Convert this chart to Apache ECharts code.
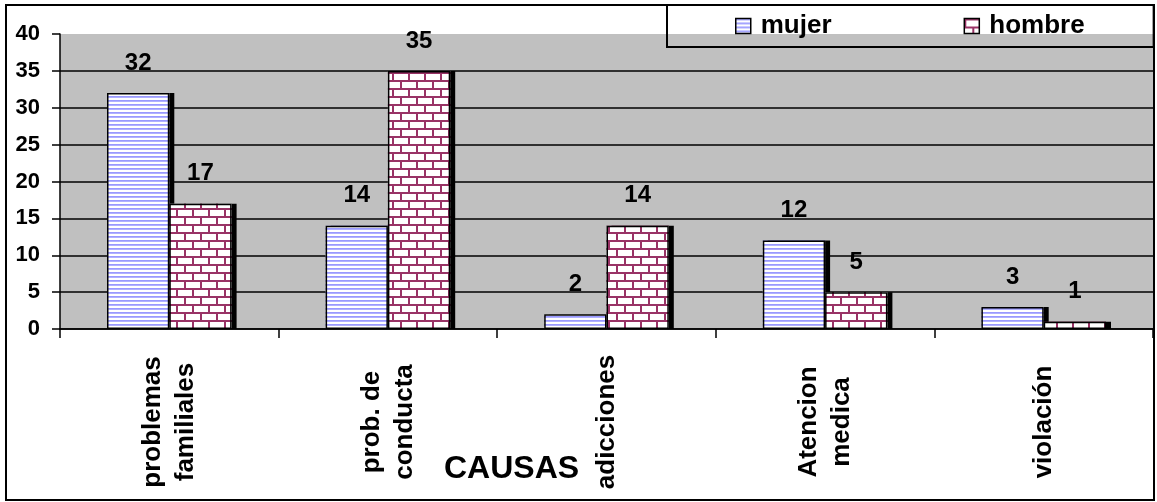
<!DOCTYPE html>
<html>
<head>
<meta charset="utf-8">
<script src="https://cdn.jsdelivr.net/npm/echarts@6/dist/echarts.min.js"></script>
<style>
  html, body { margin: 0; padding: 0; background: #fff; }
  #chart { width: 1157px; height: 502px; }
</style>
</head>
<body>
<div id="chart"></div>
<script>
// ── Data ──────────────────────────────────────────────────────────────────────
const causas = ['problemas\nfamiliales', 'prob. de\nconducta', 'adicciones', 'Atencion\nmedica', 'violación'];
const mujer  = [32, 14, 2, 12, 3];
const hombre = [17, 35, 14, 5, 1];
const seriesNames = ['mujer', 'hombre'];

// ── Fill patterns (Excel-style) ───────────────────────────────────────────────
function stripePattern() {
  const c = document.createElement('canvas');
  c.width = 4; c.height = 4;
  const ctx = c.getContext('2d');
  ctx.fillStyle = '#fff';
  ctx.fillRect(0, 0, 4, 4);
  ctx.fillStyle = '#9999ff';
  ctx.fillRect(0, 0, 4, 1);
  ctx.fillStyle = '#b0b0ff';
  ctx.fillRect(0, 1, 4, 1);
  return c;
}

function brickPattern() {
  const c = document.createElement('canvas');
  c.width = 16; c.height = 16;
  const ctx = c.getContext('2d');
  ctx.fillStyle = '#fff';
  ctx.fillRect(0, 0, 16, 16);
  ctx.fillStyle = '#993366';
  ctx.fillRect(0, 0, 16, 2);
  ctx.fillRect(0, 8, 16, 2);
  ctx.fillRect(0, 0, 2, 8);
  ctx.fillRect(8, 8, 2, 8);
  return c;
}

const FONT = "'Liberation Sans', Arial, sans-serif";
const PATTERNS = { mujer: stripePattern(), hombre: brickPattern() };

const chart = echarts.init(document.getElementById('chart'), null, { renderer: 'canvas' });

// filled bars with the black drop shadow (axis 0)
function fillSeries(name, values) {
  return {
    name,
    type: 'bar',
    xAxisIndex: 0,
    data: values,
    barGap: '0%',
    barCategoryGap: '43%',
    z: 2,
    itemStyle: {
      color: { image: PATTERNS[name], repeat: 'repeat' },
      borderWidth: 0,
      shadowColor: '#000',
      shadowOffsetX: 5,
      shadowOffsetY: 0,
      shadowBlur: 0,
    },
  };
}

// outlines + value labels drawn on an overlapping hidden axis
function outlineSeries(name, values) {
  return {
    name: name + ' ',
    type: 'bar',
    xAxisIndex: 1,
    data: values,
    barGap: '0%',
    barCategoryGap: '43%',
    z: 3,
    silent: true,
    itemStyle: { color: 'transparent', borderColor: '#000', borderWidth: 1.5 },
    label: {
      show: true,
      position: 'top',
      distance: 18,
      color: '#000',
      fontFamily: FONT,
      fontWeight: 'bold',
      fontSize: 24,
    },
  };
}

chart.setOption({
  backgroundColor: '#fff',
  animation: false,
  title: {
    text: 'CAUSAS',
    left: 444,
    top: 453,
    padding: 0,
    textStyle: { fontFamily: FONT, fontWeight: 'bold', fontSize: 32, color: '#000' },
  },
  legend: {
    data: seriesNames.map(n => ({
      name: n,
      itemStyle: { borderColor: '#000', borderWidth: 1.5 },
    })),
    icon: 'rect',
    left: 667,
    top: 5,
    padding: [8, 69, 8, 68],
    itemGap: 132,
    itemWidth: 15,
    itemHeight: 15,
    borderColor: '#000',
    borderWidth: 2,
    textStyle: {
      fontFamily: FONT, fontWeight: 'bold', fontSize: 26, color: '#000',
      padding: [0, 0, 0, 5],
    },
  },
  graphic: [{
    type: 'rect',
    shape: { x: 6, y: 5, width: 1148, height: 495 },
    style: { fill: 'none', stroke: '#000', lineWidth: 2 },
    z: 100,
    silent: true,
  }],
  grid: {
    left: 60, right: 4, top: 34, bottom: 173,
    show: true,
    backgroundColor: '#c0c0c0',
    borderWidth: 0,
  },
  xAxis: [{
    type: 'category',
    data: causas,
    axisLine: { lineStyle: { color: '#000', width: 1.5 } },
    axisTick: { show: true, length: 9, lineStyle: { color: '#000', width: 1.5 } },
    axisLabel: {
      rotate: 90,
      align: 'center',
      verticalAlign: 'middle',
      margin: 93,
      lineHeight: 33,
      color: '#000',
      fontFamily: FONT,
      fontWeight: 'bold',
      fontSize: 26,
    },
    z: 4,
  }, {
    type: 'category',
    data: causas,
    position: 'bottom',
    show: false,
  }],
  yAxis: {
    type: 'value',
    min: 0,
    max: 40,
    interval: 5,
    axisLine: { show: true, lineStyle: { color: '#000', width: 1.5 } },
    axisTick: { show: true, length: 8, lineStyle: { color: '#000', width: 1.5 } },
    axisLabel: {
      margin: 20,
      color: '#000',
      fontFamily: FONT,
      fontWeight: 'bold',
      fontSize: 22,
    },
    splitLine: { show: true, showMaxLine: false, lineStyle: { color: '#000', width: 1.5 } },
  },
  series: [
    fillSeries('mujer', mujer),
    fillSeries('hombre', hombre),
    outlineSeries('mujer', mujer),
    outlineSeries('hombre', hombre),
  ],
});
</script>
</body>
</html>
